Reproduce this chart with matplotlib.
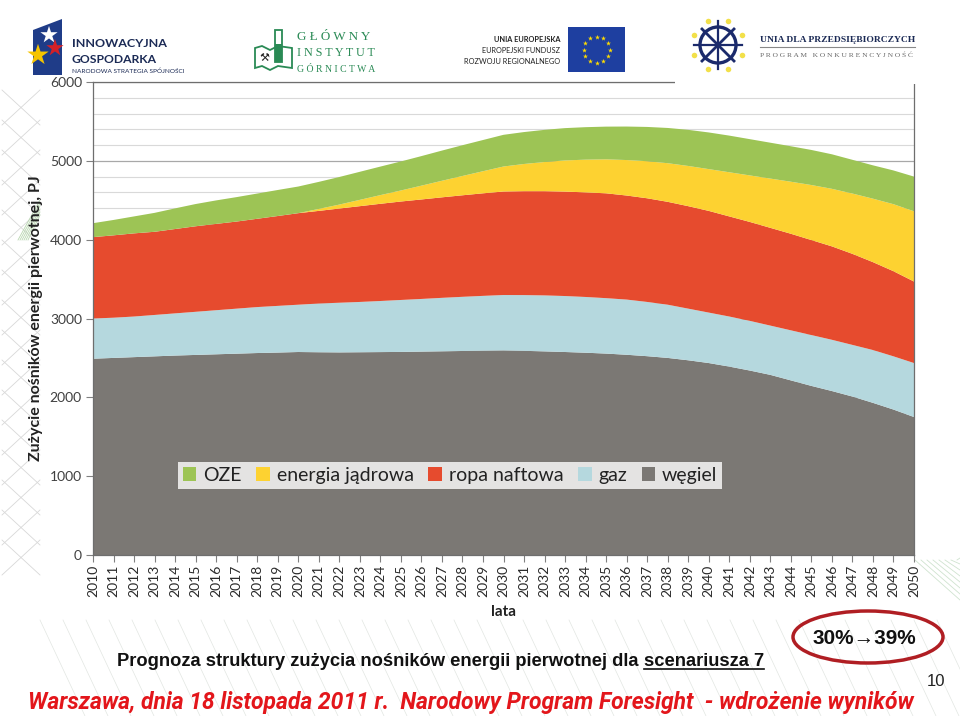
import numpy as np
import matplotlib
matplotlib.use('Agg')
import matplotlib.pyplot as plt
from matplotlib.patches import Patch, Ellipse, Rectangle, Polygon, Circle

# ---------------- data (PJ) ----------------
years = list(range(2010, 2051))
wegiel = [2490, 2500, 2510, 2520, 2530, 2538, 2546, 2554, 2562, 2568,
          2575, 2572, 2570, 2572, 2574, 2576, 2580, 2584, 2588, 2592,
          2595, 2590, 2583, 2575, 2566, 2555, 2540, 2522, 2500, 2470,
          2435, 2390, 2340, 2285, 2215, 2145, 2080, 2010, 1930, 1845, 1750]
gaz = [510, 510, 515, 525, 535, 547, 559, 571, 583, 592,
       600, 618, 630, 638, 648, 659, 668, 678, 687, 695,
       703, 707, 710, 710, 707, 703, 700, 688, 675, 655,
       640, 635, 630, 625, 635, 645, 650, 655, 670, 675, 685]
ropa = [1032, 1045, 1055, 1055, 1070, 1085, 1095, 1105, 1120, 1140,
        1161, 1175, 1195, 1215, 1233, 1249, 1262, 1275, 1288, 1301,
        1313, 1318, 1322, 1325, 1327, 1330, 1320, 1315, 1305, 1300,
        1290, 1270, 1255, 1240, 1225, 1205, 1185, 1155, 1115, 1080, 1034]
jadrowa = [0, 0, 0, 0, 0, 0, 0, 0, 0, 0,
           0, 25, 50, 80, 110, 140, 175, 210, 245, 280,
           317, 345, 370, 395, 415, 431, 450, 470, 490, 510,
           530, 560, 590, 625, 660, 698, 730, 765, 805, 850, 891]
oze = [177, 195, 215, 240, 262, 282, 298, 310, 320, 330,
       338, 343, 350, 356, 362, 368, 375, 383, 390, 396,
       402, 405, 408, 410, 412, 415, 425, 435, 447, 458,
       465, 465, 460, 455, 450, 445, 438, 428, 423, 428, 440]

legend_labels = ['OZE', 'energia jądrowa', 'ropa naftowa', 'gaz', 'węgiel']
c_oze, c_jad, c_ropa, c_gaz, c_weg = '#9DC455', '#FDD231', '#E64B2E', '#B5D8DE', '#7B7874'

W, H = 960, 716
fig = plt.figure(figsize=(9.6, 7.16), dpi=100)
fig.patch.set_facecolor('white')

def fx(px):
    return px / W

def fy(py):
    return 1 - py / H

# ---------------- faint decorative background ----------------
bg = fig.add_axes([0, 0, 1, 1], zorder=-10)
bg.set_xlim(0, W); bg.set_ylim(H, 0); bg.axis('off')
for k in range(16):
    y0 = 90 + k * 30
    bg.plot([2, 40], [y0, y0 + 35], color='#d8d8d8', lw=0.6)
    bg.plot([40, 2], [y0, y0 + 35], color='#d8d8d8', lw=0.6)
for k in range(6):
    bg.plot([18 + k * 2, 40], [240, 200 + k * 3], color='#b9d7b0', lw=0.6)
for k in range(40):
    x0 = 40 + k * 23
    bg.plot([x0, x0 + 45], [620, 716], color='#e2e6e2', lw=0.5)
for k in range(8):
    bg.plot([915 + k * 6, 960], [560, 600 - k * 6], color='#cfe3cf', lw=0.6)

# ---------------- chart ----------------
ax = fig.add_axes([fx(93), fy(555), 821 / W, 473 / H])
ax.stackplot(years, wegiel, gaz, ropa, jadrowa, oze,
             colors=[c_weg, c_gaz, c_ropa, c_jad, c_oze], linewidth=0)
ax.set_xlim(2010, 2050)
ax.set_ylim(0, 6000)
ax.set_yticks(range(0, 6001, 1000))
ax.set_yticks(range(0, 6001, 200), minor=True)
ax.grid(axis='y', which='minor', color='#d9d9d9', lw=0.8)
ax.grid(axis='y', which='major', color='#a8a8a8', lw=0.9)
ax.set_axisbelow(True)
ax.tick_params(axis='y', which='minor', length=0)
ax.tick_params(axis='y', which='major', length=5, width=0.8, direction='out',
               color='#808080', labelsize=10, labelcolor='#404040', pad=3)
ax.set_yticklabels([str(v) for v in range(0, 6001, 1000)], family=['Lato', 'DejaVu Sans'])
ax.set_xticks(years)
ax.set_xticklabels([str(y) for y in years], rotation=90, fontsize=10,
                   family=['Lato', 'DejaVu Sans'], color='#2a2a2a')
ax.tick_params(axis='x', length=5, width=0.8, direction='out', color='#808080', pad=2)
for s in ax.spines.values():
    s.set_color('#6e6e6e'); s.set_linewidth(0.9)

ax.set_ylabel('Zużycie nośników energii pierwotnej, PJ', fontsize=11.5, fontweight='bold',
              family=['Lato', 'DejaVu Sans'], color='#222222', labelpad=5)
ax.set_xlabel('lata', fontsize=11, fontweight='bold', family=['Lato', 'DejaVu Sans'],
              color='#222222', labelpad=6)

handles = [Patch(facecolor=c, edgecolor='none') for c in [c_oze, c_jad, c_ropa, c_gaz, c_weg]]
leg = ax.legend(handles, legend_labels, ncol=5, loc='upper left',
                bbox_to_anchor=(0.1035, 0.197), frameon=True, fancybox=False,
                prop={'family': ['Lato', 'DejaVu Sans'], 'size': 14},
                handlelength=0.7, handleheight=0.7, handletextpad=0.35,
                columnspacing=0.75, borderpad=0.25, borderaxespad=0)
leg.get_frame().set_facecolor('white')
leg.get_frame().set_edgecolor('none')
for t in leg.get_texts():
    t.set_color('#222222')

# ---------------- header logos ----------------
hdr = fig.add_axes([0, 0, 1, 1], zorder=5)
hdr.set_xlim(0, W); hdr.set_ylim(H, 0); hdr.axis('off')
hdr.add_patch(Rectangle((675, 0), 260, 84, facecolor='white', edgecolor='none'))
fig.canvas.draw()
r = fig.canvas.get_renderer()

def fit(t, width):
    w = t.get_window_extent(r).width
    t.set_fontsize(t.get_fontsize() * width / w)
    return t

nar = ['Liberation Sans', 'DejaVu Sans']
lat = ['Lato', 'DejaVu Sans']
ser = ['Liberation Serif', 'DejaVu Serif']
navy = '#1b2a55'
green = '#2a8a55'
# logo 1
hdr.add_patch(Polygon([[33, 30], [62, 19], [62, 75], [33, 75]], closed=True,
                      facecolor='#1f3c88', edgecolor='none'))
hdr.scatter([49, 38, 55], [35, 55, 48], marker='*', s=[170, 260, 170],
            c=['white', '#f5c400', '#d42027'], zorder=6, linewidths=0)
fit(hdr.text(72, 47, 'INNOWACYJNA', fontsize=10, fontweight='bold', color=navy, family=lat), 95)
fit(hdr.text(72, 63, 'GOSPODARKA', fontsize=10, fontweight='bold', color=navy, family=lat), 84)
fit(hdr.text(72, 73, 'NARODOWA STRATEGIA SPÓJNOŚCI', fontsize=5, color=navy, family=lat), 113)
# logo 2
hdr.add_patch(Polygon([[255, 48], [262, 46], [270, 50], [278, 46], [292, 48], [292, 68],
                       [278, 66], [270, 70], [262, 66], [255, 68]], closed=True,
                      facecolor='none', edgecolor=green, lw=1.3))
hdr.add_patch(Rectangle((275, 30), 7, 32, facecolor='none', edgecolor=green, lw=1.3))
hdr.add_patch(Rectangle((275, 44), 7, 18, facecolor=green, edgecolor='none'))
hdr.text(264, 61, '⚒', fontsize=8, color='#222222', ha='center')
fit(hdr.text(297, 40, 'G Ł Ó W N Y', fontsize=8, color=green, family=ser), 74)
fit(hdr.text(297, 56, 'I N S T Y T U T', fontsize=8, color=green, family=ser), 78)
fit(hdr.text(297, 72, 'G Ó R N I C T W A', fontsize=8, color=green, family=ser), 78)
# logo 3
fit(hdr.text(560, 42, 'UNIA EUROPEJSKA', fontsize=6, fontweight='bold', color='#222222',
             family=lat, ha='right'), 67)
fit(hdr.text(560, 53, 'EUROPEJSKI FUNDUSZ', fontsize=6, color='#222222', family=lat,
             ha='right'), 78)
fit(hdr.text(560, 64, 'ROZWOJU REGIONALNEGO', fontsize=6, color='#222222', family=lat,
             ha='right'), 97)
hdr.add_patch(Rectangle((568, 27), 57, 45, facecolor='#1e3fa0', edgecolor='none'))
ang = np.linspace(0, 2 * np.pi, 13)[:-1]
hdr.scatter(596.5 + 13 * np.cos(ang), 49.5 + 13 * np.sin(ang), marker='*', s=14,
            c='#ffdd00', zorder=6, linewidths=0)
# logo 4
hdr.add_patch(Circle((718, 45), 18, facecolor='none', edgecolor='#1b2a6b', lw=2.4))
hdr.plot([694, 742], [45, 45], color='#1b2a6b', lw=1.6)
hdr.plot([718, 718], [21, 69], color='#1b2a6b', lw=1.6)
hdr.plot([702, 734], [29, 61], color='#1b2a6b', lw=2.0)
hdr.plot([734, 702], [29, 61], color='#1b2a6b', lw=2.0)
ang8 = np.linspace(0, 2 * np.pi, 9)[:-1] + np.pi / 8
hdr.scatter(718 + 26 * np.cos(ang8), 45 + 26 * np.sin(ang8), s=16, c='#f2e04a',
            zorder=6, linewidths=0)
fit(hdr.text(760, 42, 'UNIA DLA PRZEDSIĘBIORCZYCH', fontsize=7, fontweight='bold',
             color=navy, family=ser), 155)
hdr.plot([760, 915], [47, 47], color='#888888', lw=0.8)
fit(hdr.text(760, 57, 'P R O G R A M   K O N K U R E N C Y J N O Ś Ć', fontsize=4.5,
             color='#666666', family=ser), 155)

# ---------------- bottom texts ----------------
txt = fig.add_axes([0, 0, 1, 1], zorder=6)
txt.set_xlim(0, W); txt.set_ylim(H, 0); txt.axis('off')
p1 = txt.text(0, 666, 'Prognoza struktury zużycia nośników energii pierwotnej dla ',
              fontsize=12.5, fontweight='bold', family=nar, color='#111111')
p2 = txt.text(0, 666, 'scenariusza 7', fontsize=12.5, fontweight='bold', family=nar,
              color='#111111')
w_all = p1.get_window_extent(r).width + p2.get_window_extent(r).width
scale = 649 / w_all
p1.set_fontsize(12.5 * scale)
p2.set_fontsize(12.5 * scale)
w1 = p1.get_window_extent(r).width
w2 = p2.get_window_extent(r).width
x_start = 117
p1.set_x(x_start)
p2.set_x(x_start + w1)
txt.plot([x_start + w1, x_start + w1 + w2], [668.5, 668.5], color='#111111', lw=1.2)

txt.add_patch(Ellipse((868, 637), 150, 52, facecolor='none', edgecolor='#b01e23', lw=2.5))
fit(txt.text(813, 638, '30%→39%', fontsize=14, fontweight='bold', family=nar,
             color='#111111', ha='left', va='center'), 104)
txt.text(936, 681, '10', fontsize=12, family=nar, color='#222222', ha='center', va='center')
fit(txt.text(28, 709, 'Warszawa, dnia 18 listopada 2011 r.  Narodowy Program Foresight  - wdrożenie wyników',
             fontsize=16, fontweight='bold', fontstyle='italic',
             family=['Roboto', 'Liberation Sans', 'DejaVu Sans'], color='#e3161b'), 889)

fig.savefig('out.png', dpi=100)
